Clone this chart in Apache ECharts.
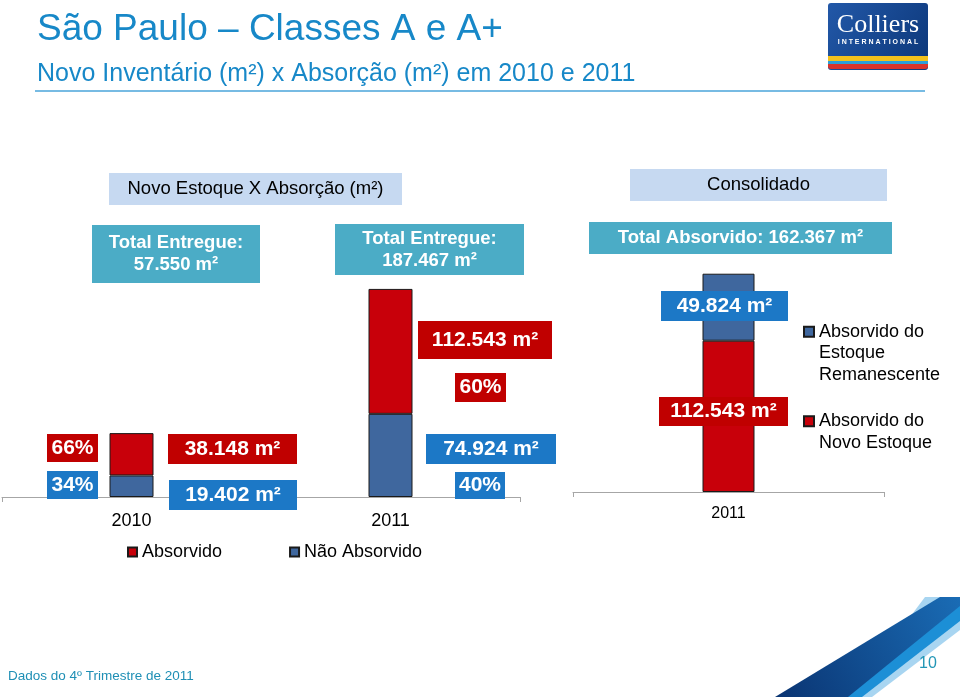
<!DOCTYPE html>
<html>
<head>
<meta charset="utf-8">
<script src="https://cdn.jsdelivr.net/npm/echarts@6/dist/echarts.min.js"></script>
<style>html,body{margin:0;padding:0;background:#fff}#c{width:960px;height:697px}</style>
</head>
<body>
<div id="c"></div>
<script>
// ---- data ----
const years = ['2010', '2011'];
const absorvido = [38148, 112543];
const naoAbsorvido = [19402, 74924];
const totalEntregue = [57550, 187467];
const pctAbsorvido = [66, 60];
const pctNaoAbsorvido = [34, 40];

const consCategories = ['2011'];
const absNovoEstoque = [112543];
const absRemanescente = [49824];
const totalAbsorvido = [162367];

const seriesNames = ['Absorvido', 'Não Absorvido'];
const consSeriesNames = ['Absorvido do Estoque Remanescente', 'Absorvido do Novo Estoque'];
const consLegendLines = [['Absorvido do', 'Estoque', 'Remanescente'], ['Absorvido do', 'Novo Estoque']];

// ---- helpers ----
const FONT = "'Liberation Sans', Arial, sans-serif";
const fmtNum = v => String(v).replace(/\B(?=(\d{3})+(?!\d))/g, '.');
const fmtM2 = v => fmtNum(v) + ' m²';
const RED = '#C00000', BLUE_BOX = '#1C78C6', TEAL = '#4BACC6', LIGHT = '#C6D9F1';
const BAR_RED = '#C8000A', BAR_BLUE = '#3F679E';

function box(x, y, w, h, fill, text, font, color, lh) {
  return [
    {type: 'rect', shape: {x: x, y: y, width: w, height: h}, style: {fill: fill}, z: 10},
    {type: 'text', z: 11, style: {text: text, x: x + w / 2, y: y + h / 2, textAlign: 'center', textVerticalAlign: 'middle',
      font: font, fill: color, lineHeight: lh || undefined}}
  ];
}
// legend text: first line centred on the icon
function legendText(lines) {
  return '\n'.repeat(lines.length - 1) + lines.join('\n');
}
const B21 = "bold 21px " + FONT;
const B18 = "bold 18.5px " + FONT;
const N18 = "18.5px " + FONT;

const graphics = [];
// title
graphics.push({type: 'text', style: {text: 'São Paulo – Classes A e A+', x: 37, y: 30, textVerticalAlign: 'middle', font: '37px ' + FONT, fill: '#1788C8'}});
graphics.push({type: 'text', style: {text: 'Novo Inventário (m²) x Absorção (m²) em 2010 e 2011', x: 37, y: 74, textVerticalAlign: 'middle', font: '25px ' + FONT, fill: '#1788C8'}});
graphics.push({type: 'line', shape: {x1: 35, y1: 91, x2: 925, y2: 91}, style: {stroke: '#4AA5DA', lineWidth: 1.5}});

// logo
graphics.push({type: 'rect', shape: {x: 828, y: 3, width: 100, height: 67, r: 3},
  style: {fill: new echarts.graphic.LinearGradient(0, 0, 1, 1, [{offset: 0, color: '#2258A8'}, {offset: 1, color: '#0C3779'}])}});
graphics.push({type: 'rect', shape: {x: 828, y: 56, width: 100, height: 5}, style: {fill: '#F2C11C'}});
graphics.push({type: 'rect', shape: {x: 828, y: 61, width: 100, height: 3}, style: {fill: '#2C9FD9'}});
graphics.push({type: 'rect', shape: {x: 828, y: 64, width: 100, height: 5, r: [0, 0, 3, 3]}, style: {fill: '#D9342B'}});
graphics.push({type: 'text', style: {text: 'Colliers', x: 878, y: 25, textAlign: 'center', textVerticalAlign: 'middle', font: "26px 'Liberation Serif', 'DejaVu Serif', serif", fill: '#fff'}});
graphics.push({type: 'text', style: {text: 'I N T E R N A T I O N A L', x: 878, y: 42, textAlign: 'center', textVerticalAlign: 'middle', font: "bold 7px " + FONT, fill: '#fff'}});

// header boxes
graphics.push(...box(109, 173, 293, 32, LIGHT, 'Novo Estoque X Absorção (m²)', N18, '#000'));
graphics.push(...box(92, 225, 168, 58, TEAL, 'Total Entregue:\n' + fmtM2(totalEntregue[0]), B18, '#fff', 22));
graphics.push(...box(335, 224, 189, 51, TEAL, 'Total Entregue:\n' + fmtM2(totalEntregue[1]), B18, '#fff', 22));
graphics.push(...box(630, 169, 257, 32, LIGHT, 'Consolidado', N18, '#000'));
graphics.push(...box(589, 222, 303, 32, TEAL, 'Total Absorvido: ' + fmtM2(totalAbsorvido[0]), B18, '#fff'));

// value label boxes, left chart
graphics.push(...box(47, 434, 51, 28, RED, pctAbsorvido[0] + '%', B21, '#fff'));
graphics.push(...box(47, 471, 51, 28, BLUE_BOX, pctNaoAbsorvido[0] + '%', B21, '#fff'));
graphics.push(...box(168, 434, 129, 30, RED, fmtM2(absorvido[0]), B21, '#fff'));
graphics.push(...box(169, 480, 128, 30, BLUE_BOX, fmtM2(naoAbsorvido[0]), B21, '#fff'));
graphics.push(...box(418, 321, 134, 38, RED, fmtM2(absorvido[1]), B21, '#fff'));
graphics.push(...box(455, 373, 51, 29, RED, pctAbsorvido[1] + '%', B21, '#fff'));
graphics.push(...box(426, 434, 130, 30, BLUE_BOX, fmtM2(naoAbsorvido[1]), B21, '#fff'));
graphics.push(...box(455, 472, 50, 27, BLUE_BOX, pctNaoAbsorvido[1] + '%', B21, '#fff'));
// right chart
graphics.push(...box(661, 291, 127, 30, BLUE_BOX, fmtM2(absRemanescente[0]), B21, '#fff'));
graphics.push(...box(659, 397, 129, 29, RED, fmtM2(absNovoEstoque[0]), B21, '#fff'));

// footer
graphics.push({type: 'text', style: {text: 'Dados do 4º Trimestre de 2011', x: 8, y: 676, textVerticalAlign: 'middle', font: "13.5px " + FONT, fill: '#1F8FB5'}});
graphics.push({type: 'polygon', shape: {points: [[850, 697], [872, 697], [960, 630], [960, 597], [925, 597]]}, style: {fill: '#A8D5F1'}});
graphics.push({type: 'polygon', shape: {points: [[835, 697], [862, 697], [960, 621], [960, 597]]}, style: {fill: '#1C8FD6'}});
graphics.push({type: 'polygon', shape: {points: [[775, 697], [848, 697], [960, 606], [960, 597], [940, 597]]},
  style: {fill: new echarts.graphic.LinearGradient(0, 1, 1, 0, [{offset: 0, color: '#0A3472'}, {offset: 1, color: '#1A6CB5'}])}});
graphics.push({type: 'text', z: 12, style: {text: '10', x: 928, y: 664, textAlign: 'center', textVerticalAlign: 'middle', font: "16px " + FONT, fill: '#2296B6'}});

const barBorder = {borderColor: '#1a1a1a', borderWidth: 1};

const option = {
  animation: false,
  backgroundColor: '#fff',
  textStyle: {fontFamily: FONT},
  grid: [
    {left: 2, width: 518, top: 275, height: 222},
    {left: 573, width: 311, top: 250, height: 242}
  ],
  xAxis: [
    {type: 'category', gridIndex: 0, data: years,
      axisLine: {lineStyle: {color: '#A6A6A6', width: 1}},
      axisTick: {show: true, length: 5, lineStyle: {color: '#A6A6A6'}},
      axisLabel: {fontSize: 18, color: '#000', margin: 15, fontFamily: FONT}},
    {type: 'category', gridIndex: 1, data: consCategories,
      axisLine: {lineStyle: {color: '#A6A6A6', width: 1}},
      axisTick: {show: true, length: 5, lineStyle: {color: '#A6A6A6'}},
      axisLabel: {fontSize: 16, color: '#000', margin: 14, fontFamily: FONT}}
  ],
  yAxis: [
    {type: 'value', gridIndex: 0, min: 0, max: 200000, show: false, splitLine: {show: false}},
    {type: 'value', gridIndex: 1, min: 0, max: 180000, show: false, splitLine: {show: false}}
  ],
  legend: [
    {left: 127, top: 543, padding: 0, itemWidth: 9, itemHeight: 9, itemGap: 67, icon: 'rect',
      data: [seriesNames[0], seriesNames[1]],
      textStyle: {fontSize: 18, color: '#000', fontFamily: FONT}},
    {left: 803, top: 278, padding: 0, itemWidth: 10, itemHeight: 10, icon: 'rect',
      data: [consSeriesNames[0]],
      formatter: () => legendText(consLegendLines[0]),
      textStyle: {fontSize: 18, lineHeight: 21.5, color: '#000', fontFamily: FONT}},
    {left: 803, top: 389, padding: 0, itemWidth: 10, itemHeight: 10, icon: 'rect',
      data: [consSeriesNames[1]],
      formatter: () => legendText(consLegendLines[1]),
      textStyle: {fontSize: 18, lineHeight: 21.5, color: '#000', fontFamily: FONT}}
  ],
  series: [
    {name: seriesNames[1], type: 'bar', xAxisIndex: 0, yAxisIndex: 0, stack: 'a', barWidth: 44,
      itemStyle: Object.assign({color: BAR_BLUE}, barBorder), data: naoAbsorvido},
    {name: seriesNames[0], type: 'bar', xAxisIndex: 0, yAxisIndex: 0, stack: 'a', barWidth: 44,
      itemStyle: Object.assign({color: BAR_RED}, barBorder), data: absorvido},
    {name: consSeriesNames[1], type: 'bar', xAxisIndex: 1, yAxisIndex: 1, stack: 'b', barWidth: 52,
      itemStyle: Object.assign({color: BAR_RED}, barBorder), data: absNovoEstoque},
    {name: consSeriesNames[0], type: 'bar', xAxisIndex: 1, yAxisIndex: 1, stack: 'b', barWidth: 52,
      itemStyle: Object.assign({color: BAR_BLUE}, barBorder), data: absRemanescente}
  ],
  graphic: {elements: graphics}
};

const chart = echarts.init(document.getElementById('c'), null, {renderer: 'canvas'});
chart.setOption(option);
</script>
</body>
</html>
